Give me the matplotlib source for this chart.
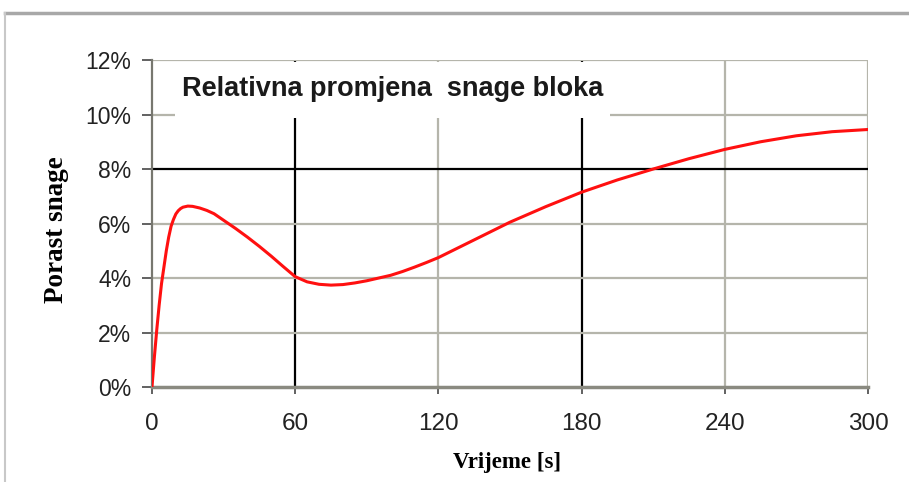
import matplotlib.pyplot as plt
from matplotlib.patches import Rectangle
from matplotlib.lines import Line2D

# values
vrijeme = [0, 1, 2, 3, 4, 5, 6, 7, 8, 9, 10, 11, 12, 13, 15, 17, 20, 23, 26, 30,
           35, 40, 45, 50, 55, 60, 65, 70, 75, 80, 85, 90, 95, 100, 105, 110,
           115, 120, 135, 150, 165, 180, 195, 210, 225, 240, 255, 270, 285, 300]
porast = [0.0, 1.1, 2.1, 3.0, 3.8, 4.4, 5.0, 5.5, 5.9, 6.15, 6.35, 6.47, 6.55,
          6.6, 6.64, 6.63, 6.57, 6.48, 6.36, 6.12, 5.82, 5.5, 5.16, 4.8, 4.42,
          4.05, 3.86, 3.77, 3.74, 3.76, 3.82, 3.9, 4.0, 4.1, 4.24, 4.4, 4.57,
          4.75, 5.4, 6.05, 6.62, 7.15, 7.6, 8.0, 8.38, 8.72, 9.0, 9.22, 9.37, 9.45]
x_ticks = [0, 60, 120, 180, 240, 300]
y_ticks = [0, 2, 4, 6, 8, 10, 12]
naslov = "Relativna promjena  snage bloka"

fig = plt.figure(figsize=(9.09, 4.82), dpi=100)
ax = fig.add_axes([0.1672, 0.197, 0.7877, 0.6785])

ax.set_xlim(0, 300)
ax.set_ylim(0, 12)
ax.set_xticks(x_ticks)
ax.set_yticks(y_ticks)
ax.set_yticklabels([f"{v}%" for v in y_ticks])

# grid: some lines black, others gray (as in the excel export)
for x in x_ticks[1:]:
    c = "black" if x in (60, 180) else "#b5b5ab"
    ax.axvline(x, color=c, lw=1.6, zorder=1)
for y in y_ticks[1:]:
    c = "black" if y == 8 else "#b5b5ab"
    ax.axhline(y, color=c, lw=1.6, zorder=1)

for s in ("top", "right"):
    ax.spines[s].set_visible(False)
ax.spines["left"].set_color("#77776f")
ax.spines["left"].set_linewidth(1.6)
ax.spines["bottom"].set_color("#8a8a80")
ax.spines["bottom"].set_linewidth(2.5)
ax.tick_params(axis="y", length=7, width=1.3, color="#555555", pad=8)
ax.tick_params(axis="x", length=5, width=1.3, color="#555555", pad=14)
for lab in ax.get_xticklabels():
    lab.set_fontfamily("Liberation Sans")
    lab.set_fontsize(17.5)
    lab.set_color("#222222")
for lab in ax.get_yticklabels():
    lab.set_fontfamily("Liberation Sans")
    lab.set_fontsize(16.5)
    lab.set_color("#222222")

ax.plot(vrijeme, porast, color="#ff1010", lw=2.2, zorder=3)

# title box hiding the grid behind it
ax.add_patch(Rectangle((9.6, 9.88), 182.4, 2.04, facecolor="white",
                       edgecolor="none", zorder=2))
ax.text(100.8, 10.94, naslov, ha="center", va="center", fontsize=19.5,
        fontweight="bold", family="Liberation Sans", color="#1a1a1a", zorder=4)

ax.set_xlabel("Vrijeme [s]", family="Liberation Serif", fontweight="bold",
              fontsize=16.5)
ax.set_ylabel("Porast snage", family="Liberation Serif", fontweight="bold",
              fontsize=19.5)
ax.xaxis.label.set_va("center")
ax.yaxis.label.set_va("center")
ax.xaxis.set_label_coords(0.4965, -0.232)
ax.yaxis.set_label_coords(-0.133, 0.48)

# outer frame (gray, top and left)
fig.add_artist(Line2D([0.006, 1.0], [0.973, 0.973], color="#a8a8a8", lw=2.5))
fig.add_artist(Line2D([0.006, 0.006], [0.0, 0.973], color="#c8c8c8", lw=1.5))

fig.savefig("out.png", dpi=100)
